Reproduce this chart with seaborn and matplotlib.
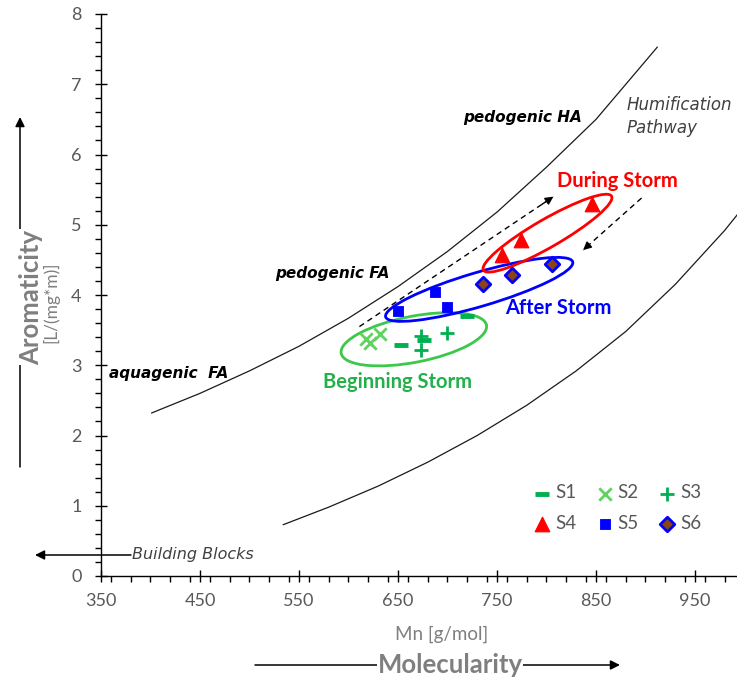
import numpy as np
import pandas as pd
import matplotlib.pyplot as plt
import seaborn as sns
from matplotlib.patches import Ellipse
from matplotlib.transforms import ScaledTranslation
from matplotlib.ticker import MultipleLocator

# ---- values ----
s1_mn = [653, 676, 720]
s1_ar = [3.29, 3.36, 3.70]
s2_mn = [618, 622, 632]
s2_ar = [3.38, 3.31, 3.45]
s3_mn = [673, 673, 699]
s3_ar = [3.41, 3.21, 3.46]
s4_mn = [755, 774, 846]
s4_ar = [4.57, 4.78, 5.30]
s5_mn = [650, 687, 700]
s5_ar = [3.77, 4.04, 3.83]
s6_mn = [736, 765, 806]
s6_ar = [4.16, 4.28, 4.44]

# humification pathway boundaries
upper_mn = [401, 450, 500, 550, 600, 650, 700, 750, 800, 850, 900, 912]
upper_ar = [2.32, 2.60, 2.92, 3.27, 3.67, 4.12, 4.62, 5.18, 5.82, 6.50, 7.33, 7.53]
lower_mn = [534, 580, 630, 680, 730, 780, 830, 880, 930, 980, 1000]
lower_ar = [0.73, 0.98, 1.28, 1.62, 2.00, 2.43, 2.92, 3.48, 4.15, 4.92, 5.27]

sns.set_style("ticks")
plt.rcParams["font.family"] = ["Lato", "DejaVu Sans"]

W, H = 737, 680
fig = plt.figure(figsize=(W / 100, H / 100), dpi=100)
ax = fig.add_axes([101 / W, 1 - 576 / H, 650 * 0.99 / W, (576 - 14) / H])

# boundary curves
sns.lineplot(x=upper_mn, y=upper_ar, sort=False, color="#1a1a1a", lw=0.9, ax=ax)
sns.lineplot(x=lower_mn, y=lower_ar, sort=False, color="#1a1a1a", lw=0.9, ax=ax)

green = "#00B050"
series = [
    ("S1", s1_mn, s1_ar, dict(marker="_", s=110, color=green, linewidth=3.5)),
    ("S2", s2_mn, s2_ar, dict(marker="x", s=80, color="#5ED35E", linewidth=2)),
    ("S3", s3_mn, s3_ar, dict(marker="+", s=110, color=green, linewidth=2)),
    ("S4", s4_mn, s4_ar, dict(marker="^", s=110, color="#FF0000", edgecolor="#FF0000")),
    ("S5", s5_mn, s5_ar, dict(marker="s", s=60, color="#0000FF", edgecolor="#0000FF")),
    ("S6", s6_mn, s6_ar, dict(marker="D", s=55, color="#8B4513", edgecolor="#0000FF",
                               linewidth=2)),
]
for name, xs, ys, kw in series:
    sns.scatterplot(x=xs, y=ys, label=name, ax=ax, zorder=4, **kw)


# group ellipses (center in data units, size in pixels)
def ring(cx, cy, w, h, ang, col):
    tr = fig.dpi_scale_trans + ScaledTranslation(cx, cy, ax.transData)
    ax.add_patch(Ellipse((0, 0), w / 100, h / 100, angle=ang, transform=tr,
                         fill=False, ec=col, lw=2.0, zorder=3))


ring(666, 3.37, 148, 46, 11, "#3CC84A")
ring(732, 4.08, 195, 34, 16.4, "#0000FF")
ring(801, 4.88, 148, 28, 30, "#FF0000")

# dashed direction arrows
for (x0, y0), (x1, y1) in [((611, 3.55), (807, 5.40)), ((896, 5.38), (837, 4.64))]:
    ax.plot([x0, x1], [y0, y1], ls=(0, (4, 3)), color="black", lw=1.0)
    ax.annotate("", xy=(x1, y1), xytext=(x1 - (x1 - x0) * 0.06, y1 - (y1 - y0) * 0.06),
                arrowprops=dict(arrowstyle="-|>", color="black", lw=1.0,
                                mutation_scale=12, shrinkA=0, shrinkB=0))

# in-plot labels
dv = ["DejaVu Sans"]
bi = dict(family=dv, fontweight="bold", fontstyle="italic", color="black",
          fontsize=11, ha="center", va="center")
ax.text(776, 6.52, "pedogenic HA", **bi)
ax.text(584, 4.30, "pedogenic FA", **bi)
ax.text(418, 2.88, "aquagenic  FA", **bi)
ax.text(881, 6.54, "Humification\nPathway", family=dv, fontstyle="italic",
        color="#404040", fontsize=12, ha="left", va="center", linespacing=1.3)
st = dict(fontweight="bold", fontsize=14.5, ha="center", va="center")
ax.text(872, 5.62, "During Storm", color="#FF0000", **st)
ax.text(812, 3.81, "After Storm", color="#0000FF", **st)
ax.text(650, 2.76, "Beginning Storm", color="#22B04B", **st)

# axes styling
ax.set_xlim(350, 1000)
ax.set_ylim(0, 8)
ax.xaxis.set_major_locator(MultipleLocator(100))
ax.xaxis.set_minor_locator(MultipleLocator(20))
ax.yaxis.set_major_locator(MultipleLocator(1))
ax.yaxis.set_minor_locator(MultipleLocator(0.2))
ax.tick_params(which="major", direction="inout", length=8, width=1, colors="black",
               labelcolor="#595959", labelsize=13)
ax.tick_params(which="minor", direction="out", length=4, width=1, colors="black")
ax.tick_params(axis="x", pad=8)
ax.tick_params(axis="y", pad=10)
ax.set_xticks(range(350, 1000, 100))
ax.spines["top"].set_visible(False)
ax.spines["right"].set_visible(False)
for sp in ("left", "bottom"):
    ax.spines[sp].set_linewidth(1)
    ax.spines[sp].set_color("black")

# legend: rows S1 S2 S3 / S4 S5 S6
handles, labels = ax.get_legend_handles_labels()
order = [0, 3, 1, 4, 2, 5]
ax.legend([handles[i] for i in order], [labels[i] for i in order], ncol=3,
          frameon=False, loc="center", bbox_to_anchor=(616 / W, 1 - 508 / H),
          bbox_transform=fig.transFigure, fontsize=13.5, labelcolor="#595959",
          handletextpad=0.1, columnspacing=0.9, labelspacing=0.7, handlelength=1.2)

# outside annotations (figure pixels, origin bottom-left)
fp = "figure pixels"
arr = dict(arrowstyle="-|>", color="black", lw=1.1, mutation_scale=14,
           shrinkA=0, shrinkB=0)
ax.annotate("", xy=(20, H - 117), xytext=(20, H - 467), xycoords=fp, textcoords=fp,
            arrowprops=arr)
fig.text(31 / W, 1 - 297 / H, "Aromaticity", rotation=90, ha="center", va="center",
         fontsize=18.5, fontweight="bold", color="#7F7F7F",
         bbox=dict(fc="white", ec="none", pad=0.5))
fig.text(51 / W, 1 - 302 / H, "[L/(mg*m)]", rotation=90, ha="center", va="center",
         fontsize=12.5, color="#7F7F7F")
ax.annotate("", xy=(35, H - 555), xytext=(131, H - 555), xycoords=fp, textcoords=fp,
            arrowprops=arr)
fig.text(132 / W, 1 - 555 / H, "Building Blocks", family=dv, ha="left", va="center",
         fontsize=11.5, fontstyle="italic", color="#404040")
fig.text(442 / W, 1 - 634 / H, "Mn [g/mol]", ha="center", va="center",
         fontsize=13.5, color="#7F7F7F")
ax.annotate("", xy=(620, H - 665), xytext=(255, H - 665), xycoords=fp, textcoords=fp,
            arrowprops=arr)
fig.text(450 / W, 1 - 665 / H, "Molecularity", ha="center", va="center",
         fontsize=18.5, fontweight="bold", color="#7F7F7F",
         bbox=dict(fc="white", ec="none", pad=0.5))

fig.savefig("out.png", dpi=100)
